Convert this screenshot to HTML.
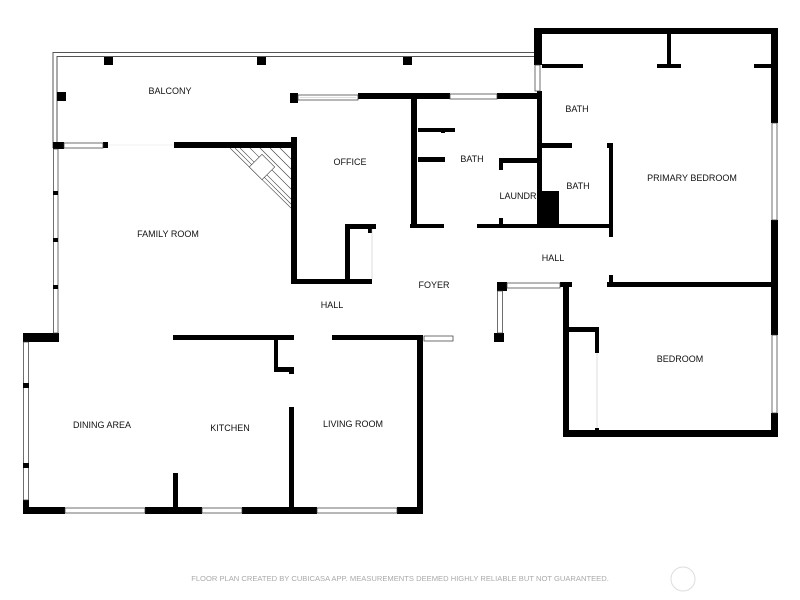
<!DOCTYPE html>
<html><head><style>
html,body{margin:0;padding:0;background:#fff;}
svg{display:block;}
text{font-family:"Liberation Sans",Arial,sans-serif;font-size:9px;fill:#111;text-anchor:middle;}
</style></head><body>
<svg width="800" height="600" viewBox="0 0 800 600" xmlns="http://www.w3.org/2000/svg">
<g fill="none" stroke="#555" stroke-width="1">
<path d="M53 148 V52.5 H535"/>
<path d="M57 148 V56.5 H535"/>
</g>
<g stroke="#444" stroke-width="0.6">
<line x1="230" y1="148" x2="293" y2="210"/>
<line x1="240" y1="148" x2="293" y2="201"/><line x1="250" y1="148" x2="293" y2="191"/>
<line x1="260" y1="148" x2="293" y2="181"/><line x1="270" y1="148" x2="293" y2="171"/>
<line x1="280" y1="148" x2="293" y2="161"/><line x1="235" y1="148" x2="293" y2="206"/>
</g>
<rect x="253" y="158" width="18" height="18" fill="#fff" stroke="#444" stroke-width="0.6" transform="rotate(45 262 167)"/>
<g fill="#000">
<rect x="104" y="57" width="9" height="8"/><rect x="257" y="57" width="9" height="8"/><rect x="403" y="57" width="9" height="8"/><rect x="57" y="92" width="9" height="9"/>
<rect x="53" y="142" width="11" height="7"/><rect x="103" y="142" width="5" height="6"/><rect x="174" y="142" width="121" height="6"/>
<rect x="291" y="137" width="6" height="147"/><rect x="291" y="279" width="81" height="5"/>
<rect x="345" y="224" width="5" height="60"/><rect x="345" y="224" width="31" height="5"/>
<rect x="368" y="229" width="4" height="4"/>
<rect x="290" y="93" width="8" height="10"/><rect x="358" y="93" width="92" height="6"/><rect x="497" y="93" width="45" height="6"/>
<rect x="411" y="93" width="6" height="135"/>
<rect x="53" y="191" width="5" height="4"/><rect x="53" y="238" width="5" height="4"/><rect x="53" y="285" width="5" height="4"/>
<rect x="23" y="333" width="36" height="9"/>
<rect x="23" y="383" width="6" height="5"/><rect x="23" y="463" width="6" height="5"/>
<rect x="23" y="507" width="42" height="7"/><rect x="145" y="507" width="57" height="7"/><rect x="242" y="507" width="75" height="7"/><rect x="397" y="507" width="26" height="7"/>
<rect x="23" y="333" width="6" height="6"/><rect x="23" y="500" width="6" height="14"/>
<rect x="173" y="473" width="5" height="37"/>
<rect x="173" y="335" width="121" height="5"/><rect x="274" y="340" width="4" height="32"/><rect x="274" y="367" width="20" height="5"/><rect x="289" y="367" width="5" height="7"/>
<rect x="289" y="407" width="5" height="103"/>
<rect x="332" y="335" width="91" height="5"/><rect x="417" y="335" width="6" height="179"/>
<rect x="534" y="28" width="244" height="6"/><rect x="534" y="28" width="8" height="37"/><rect x="771" y="28" width="7" height="95"/><rect x="771" y="220" width="7" height="67"/>
<rect x="542" y="64" width="41" height="4"/><rect x="667" y="34" width="4" height="30"/><rect x="657" y="64" width="24" height="4"/><rect x="754" y="64" width="17" height="4"/>
<rect x="537" y="91" width="5" height="137"/>
<rect x="418" y="128" width="37" height="4"/><rect x="418" y="157" width="27" height="5"/><rect x="441" y="128" width="4" height="5"/>
<rect x="500" y="158" width="38" height="5"/><rect x="499" y="158" width="4" height="12"/><rect x="499" y="218" width="4" height="9"/>
<rect x="410" y="224" width="34" height="4"/><rect x="477" y="224" width="136" height="4"/>
<rect x="538" y="191" width="21" height="36"/>
<rect x="542" y="143" width="30" height="5"/><rect x="607" y="143" width="6" height="5"/><rect x="609" y="143" width="4" height="94"/>
<rect x="609" y="275" width="4" height="12"/><rect x="607" y="282" width="171" height="5"/>
<rect x="497" y="282" width="10" height="9"/><rect x="560" y="282" width="12" height="5"/><rect x="563" y="282" width="6" height="155"/>
<rect x="494" y="333" width="10" height="9"/>
<rect x="563" y="430" width="215" height="7"/><rect x="771" y="282" width="7" height="53"/><rect x="771" y="413" width="7" height="24"/>
<rect x="569" y="327" width="30" height="5"/><rect x="595" y="327" width="4" height="26"/><rect x="595" y="428" width="4" height="3"/>
</g>
<g fill="#fff" stroke="#333" stroke-width="0.7">
<rect x="64" y="143" width="39" height="5"/><rect x="298" y="95" width="60" height="5"/><rect x="450" y="94" width="47" height="5"/>
<rect x="53.5" y="149" width="4.5" height="184"/>
<rect x="23.5" y="342" width="5" height="158"/>
<rect x="65" y="508" width="80" height="5"/><rect x="202" y="508" width="40" height="5"/><rect x="317" y="508" width="80" height="5"/>
<rect x="424" y="336" width="29" height="5"/>
<rect x="535" y="65" width="5" height="26"/><rect x="772" y="123" width="5" height="97"/>
<rect x="507" y="283" width="53" height="5"/><rect x="497.5" y="291" width="5" height="42"/>
<rect x="772" y="335" width="5" height="78"/>
</g>
<g fill="#000">
<rect x="53" y="191" width="5" height="4"/><rect x="53" y="238" width="5" height="4"/><rect x="53" y="285" width="5" height="4"/>
<rect x="23" y="383" width="6" height="5"/><rect x="23" y="463" width="6" height="5"/>
</g>
<g stroke="#bbb" stroke-width="0.5">
<line x1="300" y1="97.5" x2="356" y2="97.5"/>
<line x1="597" y1="353" x2="597" y2="428"/><line x1="372" y1="229" x2="372" y2="279"/>
<line x1="108" y1="145" x2="174" y2="145" stroke="#e4e4e4"/>
</g>
<text x="170" y="94">BALCONY</text>
<text x="350" y="165">OFFICE</text>
<text x="472" y="162">BATH</text>
<text x="577" y="112">BATH</text>
<text x="578" y="189">BATH</text>
<text x="518" y="199">LAUNDR</text>
<text x="692" y="181">PRIMARY BEDROOM</text>
<text x="168" y="237">FAMILY ROOM</text>
<text x="553" y="261">HALL</text>
<text x="434" y="288">FOYER</text>
<text x="332" y="308">HALL</text>
<text x="680" y="362">BEDROOM</text>
<text x="102" y="428">DINING AREA</text>
<text x="230" y="431">KITCHEN</text>
<text x="353" y="427">LIVING ROOM</text>
<text x="400" y="581" style="font-size:7.6px;fill:#aaa;">FLOOR PLAN CREATED BY CUBICASA APP. MEASUREMENTS DEEMED HIGHLY RELIABLE BUT NOT GUARANTEED.</text>
<circle cx="683" cy="579" r="12" fill="none" stroke="#ddd" stroke-width="1"/>
</svg>
</body></html>
